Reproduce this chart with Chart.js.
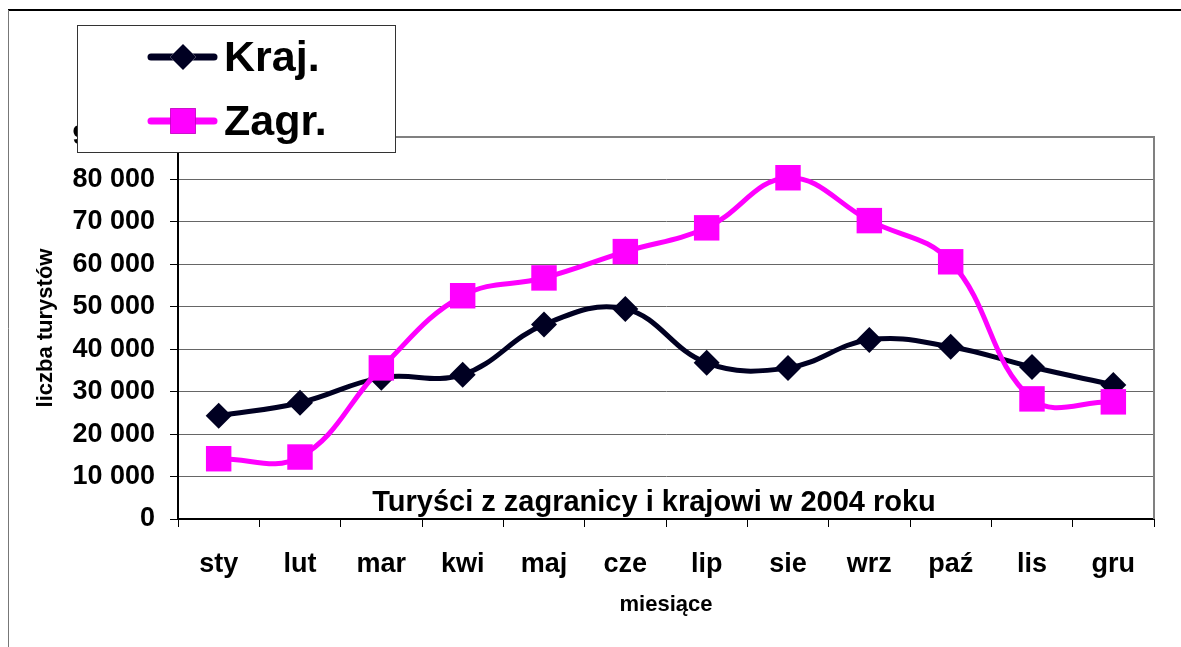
<!DOCTYPE html>
<html>
<head>
<meta charset="utf-8">
<script src="https://cdn.jsdelivr.net/npm/chart.js@4/dist/chart.umd.min.js"></script>
<style>
  body { margin: 0; background: #fff; }
  canvas { display: block; }
</style>
</head>
<body>
<canvas id="myGraph" width="1181" height="647"></canvas>
<script>
const months = ["sty", "lut", "mar", "kwi", "maj", "cze", "lip", "sie", "wrz", "paź", "lis", "gru"];
const kraj = [24300, 27400, 33300, 34000, 45800, 49500, 36800, 35600, 42200, 40600, 35800, 31600];
const zagr = [14200, 14600, 35600, 52600, 56800, 63000, 68600, 80400, 70300, 60600, 28300, 27600];
const seriesNames = ["Kraj.", "Zagr."];
const yMax = 90000;
const yStep = 10000;
const chartTitle = "Turyści z zagranicy i krajowi w 2004 roku";
const yTitle = "liczba turystów";
const xTitle = "miesiące";

const FONT = "'Liberation Sans', Arial, sans-serif";
const krajColor = "#000022";
const zagrColor = "#ff00ff";

const fmt = (v) => String(v).replace(/\B(?=(\d{3})+(?!\d))/g, " ");

// frame, plot border, inner title and the legend box
const extras = {
  id: "extras",
  beforeDraw(chart) {
    const ctx = chart.ctx;
    ctx.save();
    ctx.strokeStyle = "#000";
    ctx.lineWidth = 2;
    ctx.beginPath();
    ctx.moveTo(8, 10);
    ctx.lineTo(1181, 10);
    ctx.stroke();
    ctx.strokeStyle = "#777";
    ctx.lineWidth = 1;
    ctx.beginPath();
    ctx.moveTo(8.5, 10);
    ctx.lineTo(8.5, 647);
    ctx.stroke();
    ctx.restore();
  },
  beforeDatasetsDraw(chart) {
    const { ctx, chartArea: a } = chart;
    ctx.save();
    ctx.strokeStyle = "#808080";
    ctx.lineWidth = 2;
    ctx.beginPath();
    ctx.moveTo(a.left, a.top);
    ctx.lineTo(a.right, a.top);
    ctx.lineTo(a.right, a.bottom);
    ctx.stroke();
    ctx.fillStyle = "#000";
    ctx.font = "bold 29px " + FONT;
    ctx.textAlign = "center";
    ctx.textBaseline = "alphabetic";
    ctx.fillText(chartTitle, (a.left + a.right) / 2 - 12, a.bottom - 8);
    ctx.restore();
  },
  afterDraw(chart) {
    const ctx = chart.ctx;
    ctx.save();
    ctx.fillStyle = "#fff";
    ctx.fillRect(77, 25, 319, 128);
    ctx.strokeStyle = "#333";
    ctx.lineWidth = 1;
    ctx.strokeRect(77.5, 25.5, 318, 127);
    chart.data.datasets.forEach((ds, i) => {
      const y = i === 0 ? 57 : 121;
      ctx.strokeStyle = ds.borderColor;
      ctx.lineWidth = 7;
      ctx.lineCap = "round";
      ctx.beginPath();
      ctx.moveTo(151, y);
      ctx.lineTo(214, y);
      ctx.stroke();
      Chart.helpers.drawPoint(ctx, {
        pointStyle: ds.pointStyle,
        radius: ds.pointRadius,
        rotation: 0,
        borderWidth: 0
      }, 183, y);
      ctx.fillStyle = ds.borderColor;
      ctx.fill();
      ctx.fillStyle = "#000";
      ctx.font = "bold 43px " + FONT;
      ctx.textAlign = "left";
      ctx.textBaseline = "middle";
      ctx.fillText(ds.label, 224, y + 2);
    });
    ctx.restore();
  }
};

const config = {
  type: "line",
  data: {
    labels: months,
    datasets: [
      {
        label: seriesNames[0],
        data: kraj,
        borderColor: krajColor,
        backgroundColor: krajColor,
        borderWidth: 5,
        pointStyle: "rectRot",
        pointRadius: 13,
        pointBorderWidth: 0,
        tension: 0.4,
        order: 1
      },
      {
        label: seriesNames[1],
        data: zagr,
        borderColor: zagrColor,
        backgroundColor: zagrColor,
        borderWidth: 5,
        pointStyle: "rect",
        pointRadius: 18,
        pointBorderWidth: 0,
        tension: 0.4,
        order: 0
      }
    ]
  },
  options: {
    responsive: false,
    animation: false,
    layout: { padding: { left: 0, right: 27, top: 137, bottom: 0 } },
    plugins: {
      legend: { display: false },
      tooltip: { enabled: false }
    },
    scales: {
      x: {
        offset: true,
        grid: {
          offset: true,
          drawOnChartArea: false,
          drawTicks: true,
          tickLength: 8,
          color: "#000"
        },
        border: { color: "#000", width: 2 },
        ticks: {
          color: "#000",
          padding: 21,
          font: { family: FONT, size: 27, weight: "bold" }
        },
        title: {
          display: true,
          text: xTitle,
          color: "#000",
          font: { family: FONT, size: 22, weight: "bold" },
          padding: { top: 0, bottom: 29 }
        },
        afterFit: (s) => { s.height = 128; }
      },
      y: {
        min: 0,
        max: yMax,
        grid: {
          color: "#666",
          lineWidth: 1,
          tickLength: 8,
          tickColor: "#000"
        },
        border: { color: "#000", width: 2 },
        ticks: {
          stepSize: yStep,
          color: "#000",
          padding: 15,
          font: { family: FONT, size: 27, weight: "bold" },
          callback: (v) => fmt(v)
        },
        title: {
          display: true,
          text: yTitle,
          color: "#000",
          font: { family: FONT, size: 22, weight: "bold" },
          padding: { top: 33, bottom: 0 }
        },
        afterFit: (s) => { s.width = 178; }
      }
    }
  },
  plugins: [extras]
};

new Chart(document.getElementById("myGraph"), config);
</script>
</body>
</html>
